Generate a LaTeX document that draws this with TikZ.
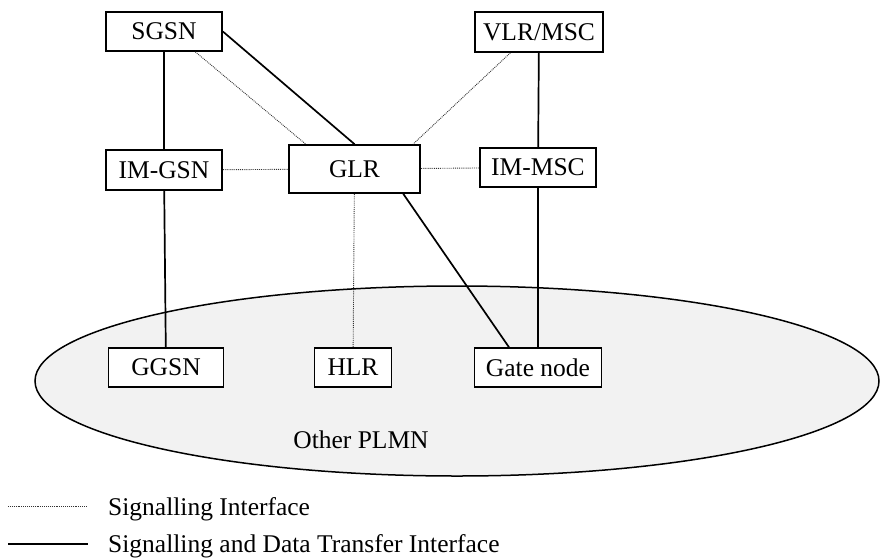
\documentclass[tikz,border=0pt]{standalone}
\usepackage{fontspec}
\setmainfont{Liberation Serif}
\usetikzlibrary{calc}
\tikzset{
	box/.style={draw, line width=1.7pt, fill=white, inner sep=0pt, minimum height=39pt},
	sig/.style={line width=0.9pt, densely dotted, color=black!80},
	sigdata/.style={line width=1.7pt}
}

\begin{document}
\begin{tikzpicture}[x=1pt, y=-1pt, font=\fontsize{25.5}{30}\selectfont]
		%%%%% START %%%%%
		\useasboundingbox (0, 0) rectangle (880, 557);
		
		\draw[line width=1.5pt, fill=black!5] (457, 381) ellipse [x radius=422pt, y radius=95pt];
		\node[anchor=base] (plmn) at (361, 448) {Other PLMN};
		
		\node[box, minimum width=116pt] (sgsn) at (164, 31.5) {SGSN};
		\node[box, minimum width=128pt, minimum height=40pt] (vlr) at (539, 32) {VLR/MSC};
		\node[box, minimum width=116pt, minimum height=40pt] (imgsn) at (164, 170) {IM-GSN};
		\node[box, minimum width=131pt, minimum height=48pt] (glr) at (354.5, 169) {GLR};
		\node[box, minimum width=116pt] (immsc) at (538, 167.5) {IM-MSC};
		
		\node[box, minimum width=115pt] (ggsn) at (166, 367.5) {GGSN};
		\node[box, minimum width=77pt] (hlr) at (353, 367.5) {HLR};
		\node[box, minimum width=127pt] (gate) at (538, 367.5) {Gate node};
		
		\draw[sig] (sgsn.-33) -- (glr.153);
		\draw[sig] (vlr.216) -- (glr.23);
		\draw[sig] (imgsn) -- (glr);
		\draw[sig] (glr) -- (immsc);
		\draw[sig] (glr) -- (hlr);
		
		\draw[sigdata] (sgsn) -- (imgsn);
		\draw[sigdata] (imgsn) -- (ggsn);
		\draw[sigdata] (sgsn.east) -- (glr.north);
		\draw[sigdata] (vlr) -- (immsc);
		\draw[sigdata] (immsc) -- (gate);
		\draw[sigdata] (glr.-27.5) -- (gate.145);
		
		% legend
		\coordinate (siga) at (8, 506);
		\coordinate (sigb) at (87, 506);
		\coordinate (dataa) at (8, 544);
		\coordinate (datab) at (88, 544);
		\draw[sig] (siga) -- (sigb);
		\draw[sigdata] (dataa) -- (datab);
		\node[anchor=base west, inner sep=0pt] (sigtext) at (108, 515) {Signalling Interface};
		\node[anchor=base west, inner sep=0pt] (datatext) at (108, 552) {Signalling and Data Transfer Interface};
		
		%%%%% END %%%%%
	\end{tikzpicture}
\end{document}
